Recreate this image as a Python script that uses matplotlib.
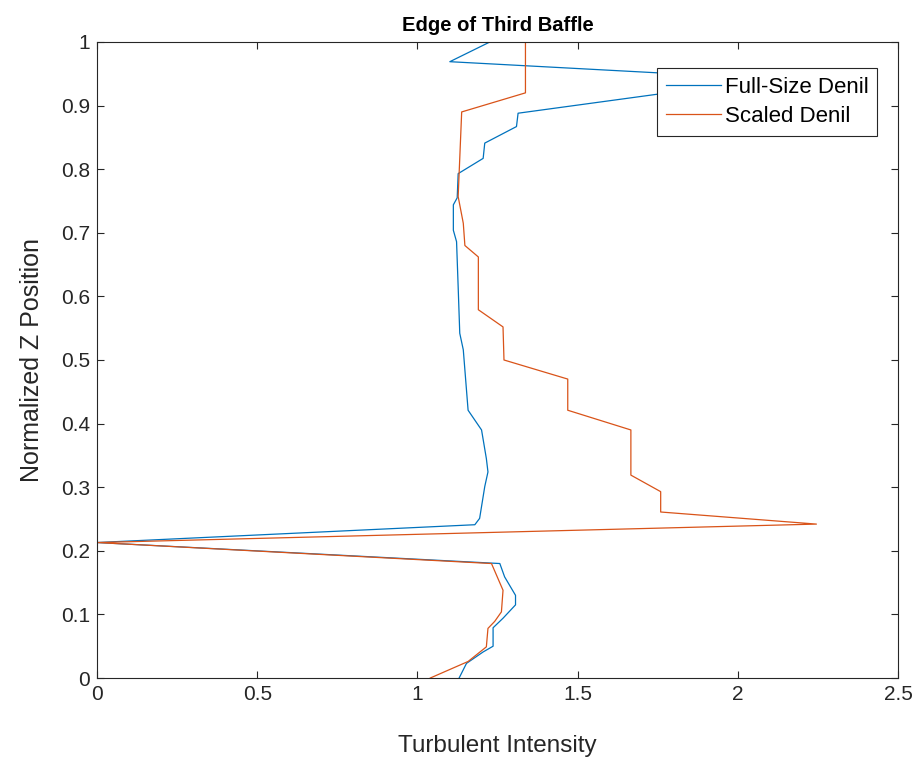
import matplotlib
matplotlib.use("Agg")
import matplotlib.pyplot as plt

# values
full_z = [0.0, 0.023, 0.041, 0.05, 0.079, 0.094, 0.115, 0.13, 0.159, 0.18,
          0.213, 0.241, 0.251, 0.301, 0.324, 0.345, 0.39, 0.421, 0.516, 0.542,
          0.615, 0.686, 0.704, 0.744, 0.755, 0.793, 0.817, 0.841, 0.867, 0.888,
          0.942, 0.969, 1.0]
full_ti = [1.13, 1.153, 1.205, 1.236, 1.236, 1.267, 1.306, 1.306, 1.272, 1.257,
           0.0, 1.179, 1.194, 1.21, 1.22, 1.215, 1.2, 1.158, 1.143, 1.132,
           1.127, 1.122, 1.112, 1.112, 1.124, 1.127, 1.205, 1.21, 1.309, 1.314,
           2.1, 1.101, 1.226]

scaled_z = [0.0, 0.026, 0.049, 0.078, 0.089, 0.104, 0.138, 0.18, 0.213, 0.242,
            0.261, 0.293, 0.319, 0.39, 0.421, 0.47, 0.5, 0.552, 0.579, 0.662,
            0.68, 0.715, 0.757, 0.793, 0.89, 0.92, 1.0]
scaled_ti = [1.04, 1.158, 1.215, 1.22, 1.241, 1.262, 1.267, 1.231, 0.0, 2.245,
             1.759, 1.759, 1.666, 1.666, 1.469, 1.469, 1.27, 1.267, 1.19, 1.19,
             1.148, 1.143, 1.127, 1.13, 1.138, 1.337, 1.337]

x_ticks = [0, 0.5, 1, 1.5, 2, 2.5]
x_labels = ["0", "0.5", "1", "1.5", "2", "2.5"]
y_ticks = [0, 0.1, 0.2, 0.3, 0.4, 0.5, 0.6, 0.7, 0.8, 0.9, 1]
y_labels = ["0", "0.1", "0.2", "0.3", "0.4", "0.5", "0.6", "0.7", "0.8", "0.9", "1"]

plt.rcParams["font.family"] = ["Liberation Sans", "DejaVu Sans"]
axis_col = "#262626"

fig = plt.figure(figsize=(9.24, 7.59), dpi=100)
ax = fig.add_axes([0.105, 0.1067, 0.867, 0.838])

ax.plot(full_ti, full_z, color=(0.0, 0.447, 0.741), linewidth=0.9,
        label="Full-Size Denil")
ax.plot(scaled_ti, scaled_z, color=(0.85, 0.325, 0.098), linewidth=0.9,
        label="Scaled Denil")

ax.set_xlim(0, 2.5)
ax.set_ylim(0, 1)
ax.set_xticks(x_ticks)
ax.set_xticklabels(x_labels)
ax.set_yticks(y_ticks)
ax.set_yticklabels(y_labels)
ax.tick_params(direction="in", top=True, right=True, length=5,
               labelsize=15, colors=axis_col, pad=5)
for s in ax.spines.values():
    s.set_color(axis_col)
    s.set_linewidth(0.8)

ax.set_xlabel("Turbulent Intensity", fontsize=17.5, color=axis_col, labelpad=22)
ax.set_ylabel("Normalized Z Position", fontsize=18, color=axis_col, labelpad=12)
ax.set_title("Edge of Third Baffle", fontsize=14.5, fontweight="bold",
             color="black", pad=8)

leg = ax.legend(loc="upper right", bbox_to_anchor=(0.974, 0.959),
                borderaxespad=0, fancybox=False, framealpha=1,
                edgecolor=axis_col, fontsize=16, handlelength=2.5,
                handletextpad=0.15, borderpad=0.4, labelspacing=0.35)
leg.get_frame().set_linewidth(0.8)

fig.savefig("out.png", dpi=100)
